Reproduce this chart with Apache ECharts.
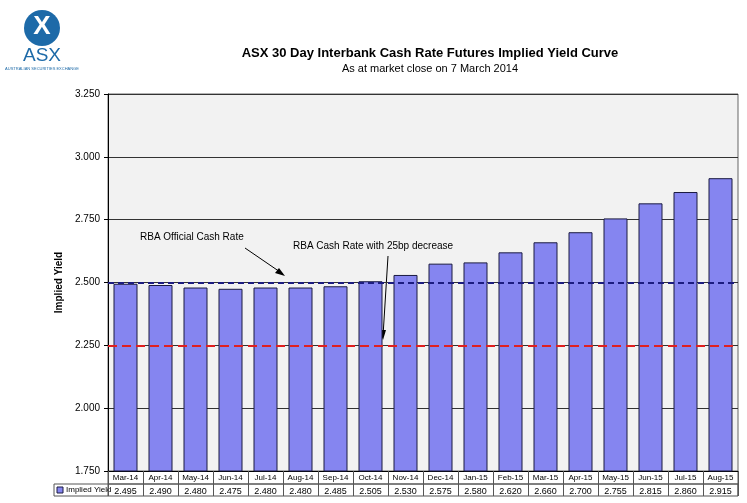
<!DOCTYPE html>
<html><head><meta charset="utf-8">
<script src="https://cdn.jsdelivr.net/npm/echarts@6/dist/echarts.min.js"></script>
<style>html,body{margin:0;background:#fff}#c{width:747px;height:503px}</style>
</head><body><div id="c"></div>
<script>
const months = ['Mar-14','Apr-14','May-14','Jun-14','Jul-14','Aug-14','Sep-14','Oct-14','Nov-14','Dec-14','Jan-15','Feb-15','Mar-15','Apr-15','May-15','Jun-15','Jul-15','Aug-15'];
const impliedYield = [2.495,2.490,2.480,2.475,2.480,2.480,2.485,2.505,2.530,2.575,2.580,2.620,2.660,2.700,2.755,2.815,2.860,2.915];
const officialRate = 2.5;
const cutRate = 2.25;
const yTicks = {min: 1.75, max: 3.25, interval: 0.25};

const chart = echarts.init(document.getElementById('c'));
const F = 'Liberation Sans, Arial, sans-serif';
const L = 108, R = 738, T = 94, B = 471;
chart.setOption({
  backgroundColor: '#fff',
  textStyle: {fontFamily: F},
  title: {text: 'ASX 30 Day Interbank Cash Rate Futures Implied Yield Curve',
    subtext: 'As at market close on 7 March 2014', left: 425, top: 42, textAlign: 'center', itemGap: 3,
    textStyle: {fontSize: 13, fontWeight: 'bold', color: '#000', fontFamily: F},
    subtextStyle: {fontSize: 11, color: '#000', fontFamily: F}},
  grid: {left: L, right: 747 - R, top: T, bottom: 503 - B, backgroundColor: '#f2f2f2', show: true, borderColor: '#666', borderWidth: 1},
  xAxis: [
    {type: 'category', data: months, axisLine: {lineStyle: {color: '#000'}},
     axisTick: {show: true, interval: 0, length: 25, lineStyle: {color: '#555'}},
     axisLabel: {fontSize: 8, interval: 0, color: '#000', margin: 3}},
    {type: 'category', data: impliedYield.map(v => v.toFixed(3)), position: 'bottom', offset: 13,
     axisLine: {show: false}, axisTick: {show: false},
     axisLabel: {fontSize: 9, interval: 0, color: '#000', margin: 3}}
  ],
  yAxis: {type: 'value', min: yTicks.min, max: yTicks.max, interval: yTicks.interval,
    name: 'Implied Yield', nameLocation: 'middle', nameGap: 42, nameRotate: 90,
    nameTextStyle: {fontSize: 10, fontWeight: 'bold', color: '#000'},
    axisLine: {show: true, lineStyle: {color: '#000'}}, axisTick: {show: true, length: 4},
    axisLabel: {fontSize: 10, color: '#000', formatter: v => v.toFixed(3)},
    splitLine: {lineStyle: {color: '#333', width: 1}}},
  series: [
    {type: 'bar', data: impliedYield, barWidth: 24, itemStyle: {color: '#8585f0', borderColor: '#1a1a40', borderWidth: 1},
     markLine: {symbol: 'none', silent: true, label: {show: false},
       data: [
         {yAxis: officialRate, lineStyle: {color: '#1c1c80', type: [6, 4], width: 2}},
         {yAxis: cutRate, lineStyle: {color: '#e02020', type: [9, 5], width: 2}}
       ]}},
    {type: 'bar', xAxisIndex: 1, data: [], barWidth: 0}
  ],
  graphic: [
    {type: 'rect', shape: {x: 54, y: 484, width: 684, height: 12}, style: {fill: 'none', stroke: '#555', lineWidth: 1}},
    {type: 'line', shape: {x1: 108, y1: 471, x2: 108, y2: 496}, style: {stroke: '#555'}},
    {type: 'line', shape: {x1: 738, y1: 471, x2: 738, y2: 496}, style: {stroke: '#555'}},
    {type: 'line', shape: {x1: 108, y1: 484, x2: 738, y2: 484}, style: {stroke: '#555'}},
    {type: 'rect', shape: {x: 57, y: 487, width: 6, height: 6}, style: {fill: '#8585f0', stroke: '#1a1a40'}},
    {type: 'text', x: 66, y: 486, style: {text: 'Implied Yield', fontSize: 8, fontFamily: F, fill: '#000'}},
    {type: 'text', x: 140, y: 232, style: {text: 'RBA Official Cash Rate', fontSize: 10, fontFamily: F, fill: '#000'}},
    {type: 'line', shape: {x1: 245, y1: 248, x2: 283, y2: 274}, style: {stroke: '#000', lineWidth: 1}},
    {type: 'polygon', shape: {points: [[285, 276], [275, 273], [279, 268]]}, style: {fill: '#000'}},
    {type: 'text', x: 293, y: 241, style: {text: 'RBA Cash Rate with 25bp decrease', fontSize: 10, fontFamily: F, fill: '#000'}},
    {type: 'line', shape: {x1: 388, y1: 256, x2: 383, y2: 336}, style: {stroke: '#000', lineWidth: 1}},
    {type: 'polygon', shape: {points: [[383, 340], [379, 330], [386, 330]]}, style: {fill: '#000'}},
    {type: 'circle', shape: {cx: 42, cy: 28, r: 18}, style: {fill: '#1d6aa8'}},
    {type: 'text', x: 42, y: 27, style: {text: 'X', fontSize: 26, fontWeight: 'bold', fontFamily: F, fill: '#fff', align: 'center', verticalAlign: 'middle'}},
    {type: 'text', x: 42, y: 56, style: {text: 'ASX', fontSize: 19, fontFamily: F, fill: '#1d6aa8', align: 'center', verticalAlign: 'middle'}},
    {type: 'text', x: 42, y: 69, style: {text: 'AUSTRALIAN SECURITIES EXCHANGE', fontSize: 4, fontFamily: F, fill: '#1d6aa8', align: 'center', verticalAlign: 'middle'}}
  ]
});
</script></body></html>
